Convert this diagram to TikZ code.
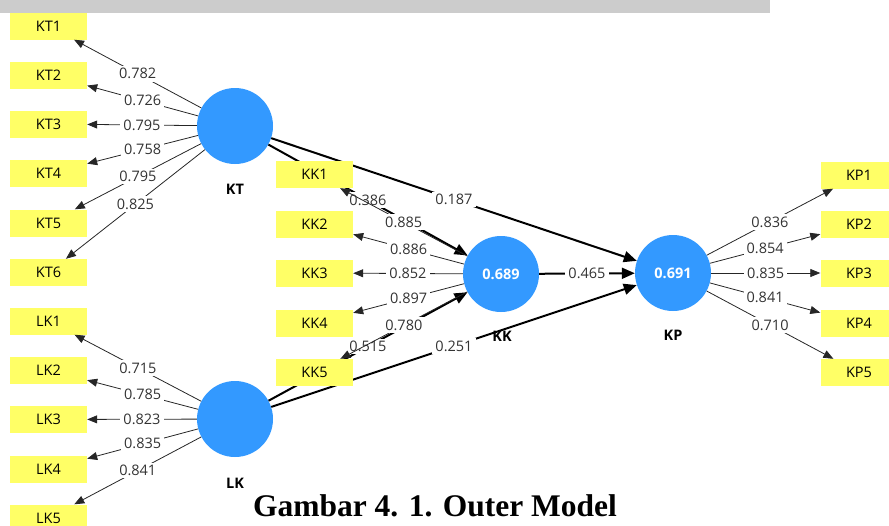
\documentclass[tikz,border=0pt]{standalone}
\usepackage{fontspec}
\setsansfont{Open Sans}
\newfontfamily\captionfont{Liberation Serif}
\usetikzlibrary{arrows.meta}
\definecolor{plsblue}{RGB}{51,153,255}
\definecolor{plsyellow}{RGB}{255,255,102}
\newcommand{\plsfont}{\sffamily\fontsize{14.5}{16}\selectfont}
\tikzstyle{latent}=[circle,fill=plsblue,minimum size=76pt,inner sep=0pt,font=\plsfont\bfseries,text=white]
\tikzstyle{indicator}=[rectangle,fill=plsyellow,minimum width=77pt,minimum height=27pt,inner sep=0pt,font=\plsfont]
\tikzstyle{lvname}=[font=\plsfont\bfseries]
\tikzstyle{loading}=[draw=black!85,line width=0.8pt,-{Triangle[length=10pt,width=8pt]}]
\tikzstyle{structural}=[draw=black,line width=2pt,-{Triangle[length=13pt,width=11pt]}]
\tikzstyle{weight}=[fill=white,inner xsep=3pt,inner ysep=2.5pt,font=\plsfont,text=black!80]

\begin{document}
\begin{tikzpicture}[x=1pt,y=-1pt]

  \useasboundingbox (0,0) rectangle (889,525);

  % latent variables
  \foreach \x/\y/\name/\value in {235/126/KT/{}, 235/419/LK/{}, 501/274/KK/0.689, 673/273/KP/0.691}
     \node[latent] (\name) at (\x,\y) {\value};
  \foreach \x/\y/\name in {235/189/KT, 235/483/LK, 502/336/KK, 673/335/KP}
     \node[lvname] (\name name) at (\x,\y) {\name};

  % inner model
  \foreach \source/\dest/\weight in {KT/KK/0.386, LK/KK/0.515, KT/KP/0.187, LK/KP/0.251, KK/KP/0.465}
     \draw[structural] (\source) -- node[weight] {\weight} (\dest);

  % indicators
  \foreach \y/\name/\weight in {26/KT1/0.782, 75/KT2/0.726, 124/KT3/0.795, 173.5/KT4/0.758, 223/KT5/0.795, 272.5/KT6/0.825}{
     \node[indicator] (\name) at (48.5,\y) {\name};
     \draw[loading] (KT) -- node[weight] {\weight} (\name);
  }
  \foreach \y/\name/\weight in {321/LK1/0.715, 370/LK2/0.785, 419.5/LK3/0.823, 469/LK4/0.835, 518/LK5/0.841}{
     \node[indicator] (\name) at (48.5,\y) {\name};
     \draw[loading] (LK) -- node[weight] {\weight} (\name);
  }
  \foreach \y/\name/\weight in {174.5/KK1/0.885, 224/KK2/0.886, 273/KK3/0.852, 323/KK4/0.897, 372.5/KK5/0.780}{
     \node[indicator] (\name) at (314.5,\y) {\name};
     \draw[loading] (KK) -- node[weight] {\weight} (\name);
  }
  \foreach \y/\name/\weight in {175/KP1/0.836, 224/KP2/0.854, 273/KP3/0.835, 323/KP4/0.841, 372.5/KP5/0.710}{
     \node[indicator] (\name) at (859,\y) {\name};
     \draw[loading] (KP) -- node[weight] {\weight} (\name);
  }

  \node[font=\captionfont\bfseries\fontsize{31.5}{36}\selectfont] (caption) at (435,506) {Gambar 4. 1. Outer Model};

  % scanned band on top
  \fill[black!20] (0,0) rectangle (770,13);

\end{tikzpicture}
\end{document}
